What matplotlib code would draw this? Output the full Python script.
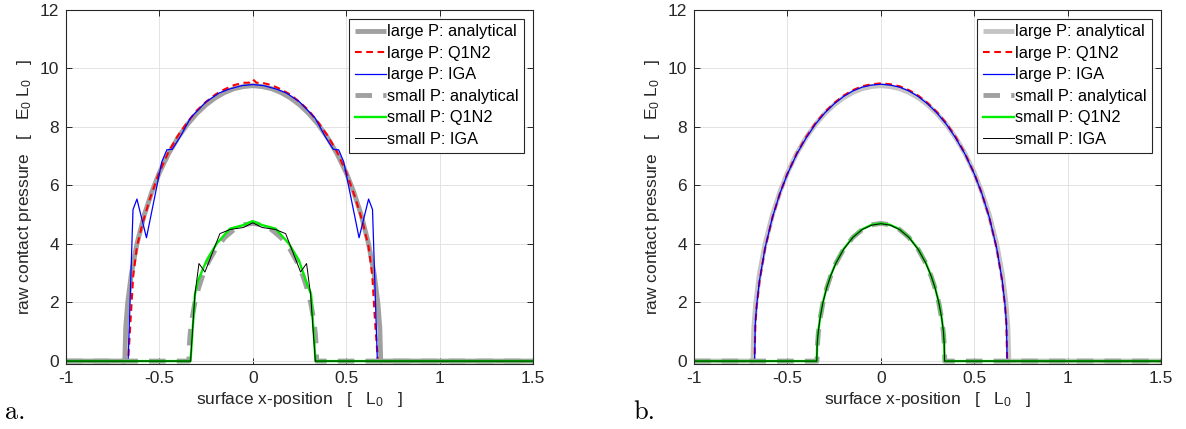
import matplotlib
matplotlib.use("Agg")
import matplotlib.pyplot as plt
import numpy as np

plt.rcParams["font.family"] = ["Liberation Sans", "DejaVu Sans"]
plt.rcParams["mathtext.fontset"] = "custom"
plt.rcParams["mathtext.rm"] = "Liberation Sans"
plt.rcParams["mathtext.it"] = "Liberation Sans:italic"
plt.rcParams["axes.unicode_minus"] = False

# ── analytical Hertz pressure (same in both panels) ──────────────────────────
ana_large_x = [-1.0, -0.685, -0.68, -0.67, -0.65, -0.62, -0.58, -0.54, -0.5, -0.45,
               -0.4, -0.35, -0.3, -0.25, -0.2, -0.15, -0.1, -0.05, 0.0, 0.05, 0.1,
               0.15, 0.2, 0.25, 0.3, 0.35, 0.4, 0.45, 0.5, 0.54, 0.58, 0.62, 0.65,
               0.67, 0.68, 0.685, 1.5]
ana_large_p = [0, 0, 1.14, 1.96, 2.97, 4.00, 5.00, 5.78, 6.43, 7.09, 7.63, 8.08,
               8.45, 8.75, 8.99, 9.17, 9.30, 9.37, 9.40, 9.37, 9.30, 9.17, 8.99,
               8.75, 8.45, 8.08, 7.63, 7.09, 6.43, 5.78, 5.00, 4.00, 2.97, 1.96,
               1.14, 0, 0]

ana_small_x = [-1.0, -0.342, -0.34, -0.335, -0.325, -0.31, -0.29, -0.27, -0.24, -0.2,
               -0.15, -0.1, -0.05, 0.0, 0.05, 0.1, 0.15, 0.2, 0.24, 0.27, 0.29,
               0.31, 0.325, 0.335, 0.34, 0.342, 1.5]
ana_small_p = [0, 0, 0.51, 0.95, 1.46, 1.99, 2.49, 2.88, 3.35, 3.81, 4.22, 4.49,
               4.65, 4.70, 4.65, 4.49, 4.22, 3.81, 3.35, 2.88, 2.49, 1.99, 1.46,
               0.95, 0.51, 0, 0]

# ── panel a: raw nodal pressures ─────────────────────────────────────────────
a_q1n2_large_x = [-1.0, -0.667, -0.655, -0.64, -0.62, -0.59, -0.55, -0.5, -0.45,
                  -0.4, -0.35, -0.3, -0.25, -0.2, -0.15, -0.1, -0.05, -0.02, 0.0,
                  0.02, 0.05, 0.1, 0.15, 0.2, 0.25, 0.3, 0.35, 0.4, 0.45, 0.5,
                  0.55, 0.59, 0.62, 0.64, 0.655, 0.67, 1.5]
a_q1n2_large_p = [0, 0, 1.3, 2.9, 3.9, 4.7, 5.55, 6.45, 7.15, 7.7, 8.15, 8.55,
                  8.85, 9.1, 9.28, 9.42, 9.5, 9.5, 9.62, 9.5, 9.5, 9.42, 9.28,
                  9.1, 8.85, 8.55, 8.15, 7.7, 7.15, 6.45, 5.55, 4.7, 3.9, 2.9,
                  1.3, 0, 0]

a_iga_large_x = [-1.0, -0.667, -0.641, -0.62, -0.569, -0.487, -0.46, -0.431, -0.39,
                 -0.333, -0.25, -0.18, -0.128, -0.06, 0.0, 0.06, 0.128, 0.18, 0.25,
                 0.333, 0.39, 0.431, 0.46, 0.487, 0.569, 0.62, 0.641, 0.667, 1.5]
a_iga_large_p = [0, 0, 5.17, 5.53, 4.21, 6.8, 7.21, 7.23, 7.64, 8.3, 8.85, 9.15,
                 9.28, 9.4, 9.44, 9.4, 9.28, 9.15, 8.85, 8.3, 7.64, 7.23, 7.21,
                 6.8, 4.21, 5.53, 5.17, 0, 0]

a_q1n2_small_x = [-1.0, -0.333, -0.309, -0.292, -0.247, -0.193, -0.122, -0.051, 0.0,
                  0.051, 0.122, 0.193, 0.247, 0.292, 0.312, 0.336, 1.5]
a_q1n2_small_p = [0, 0, 2.30, 2.76, 3.44, 4.01, 4.52, 4.64, 4.78, 4.64, 4.52,
                  4.01, 3.44, 2.60, 2.30, 0, 0]

a_iga_small_x = [-1.0, -0.333, -0.31, -0.288, -0.256, -0.176, -0.122, -0.05, 0.0,
                 0.05, 0.122, 0.176, 0.256, 0.288, 0.31, 0.335, 1.5]
a_iga_small_p = [0, 0, 2.25, 3.33, 3.04, 4.35, 4.49, 4.56, 4.72, 4.56, 4.49, 4.35,
                 3.04, 3.33, 2.25, 0, 0]

# ── panel b: smoothed nodal pressures ────────────────────────────────────────
b_large_x = [-1.0, -0.676, -0.672, -0.665, -0.65, -0.62, -0.58, -0.54, -0.5, -0.45,
             -0.4, -0.35, -0.3, -0.25, -0.2, -0.15, -0.1, -0.05, 0.0, 0.05, 0.1,
             0.15, 0.2, 0.25, 0.3, 0.35, 0.4, 0.45, 0.5, 0.54, 0.58, 0.62, 0.65,
             0.665, 0.672, 0.676, 1.5]
b_q1n2_large_p = [0, 0, 1.26, 1.85, 2.70, 3.84, 4.91, 5.73, 6.40, 7.09, 7.65, 8.12,
                  8.50, 8.81, 9.06, 9.25, 9.38, 9.45, 9.48, 9.45, 9.38, 9.25, 9.06,
                  8.81, 8.50, 8.12, 7.65, 7.09, 6.40, 5.73, 4.91, 3.84, 2.70, 1.85,
                  1.26, 0, 0]
b_iga_large_p = [0, 0, 1.30, 1.90, 2.74, 3.86, 4.92, 5.73, 6.39, 7.07, 7.62, 8.09,
                 8.47, 8.78, 9.03, 9.22, 9.35, 9.42, 9.45, 9.42, 9.35, 9.22, 9.03,
                 8.78, 8.47, 8.09, 7.62, 7.07, 6.39, 5.73, 4.92, 3.86, 2.74, 1.90,
                 1.30, 0, 0]

b_small_x = [-1.0, -0.343, -0.341, -0.335, -0.325, -0.31, -0.29, -0.27, -0.24, -0.2,
             -0.15, -0.1, -0.05, 0.0, 0.05, 0.1, 0.15, 0.2, 0.24, 0.27, 0.29,
             0.31, 0.325, 0.335, 0.339, 0.341, 1.5]
b_q1n2_small_p = [0, 0, 0.62, 1.01, 1.50, 2.01, 2.51, 2.90, 3.36, 3.82, 4.23, 4.50,
                  4.65, 4.70, 4.65, 4.50, 4.23, 3.82, 3.36, 2.90, 2.51, 2.01, 1.50,
                  1.01, 0.62, 0, 0]
b_iga_small_p = [0, 0, 0.60, 1.00, 1.49, 2.00, 2.50, 2.89, 3.35, 3.81, 4.22, 4.49,
                 4.64, 4.69, 4.64, 4.49, 4.22, 3.81, 3.35, 2.89, 2.50, 2.00, 1.49,
                 1.00, 0.60, 0, 0]

labels = ["large P: analytical", "large P: Q1N2", "large P: IGA",
          "small P: analytical", "small P: Q1N2", "small P: IGA"]
x_ticks = [-1, -0.5, 0, 0.5, 1, 1.5]
x_tick_labels = ["-1", "-0.5", "0", "0.5", "1", "1.5"]
y_ticks = [0, 2, 4, 6, 8, 10, 12]

INK = "#262626"


def draw_panel(ax, series, ana_large_color, tag):
    (lq_x, lq_p), (li_x, li_p), (sq_x, sq_p), (si_x, si_p) = series
    ax.plot(ana_large_x, ana_large_p, color=ana_large_color, lw=3.5,
            solid_capstyle="butt", label=labels[0])
    ax.plot(lq_x, lq_p, color="#ff0000", lw=1.5, ls=(0, (3.2, 2.2)), label=labels[1])
    ax.plot(li_x, li_p, color="#0000ff", lw=0.9, label=labels[2])
    ax.plot(ana_small_x, ana_small_p, color="#a0a0a0", lw=3.5,
            ls=(0, (3.4, 2.3)), dash_capstyle="butt", label=labels[3])
    ax.plot(sq_x, sq_p, color="#00ee00", lw=1.7, label=labels[4])
    ax.plot(si_x, si_p, color="#000000", lw=0.7, label=labels[5])

    ax.set_xlim(-1, 1.5)
    ax.set_ylim(-0.1, 12)
    ax.set_xticks(x_ticks)
    ax.set_xticklabels(x_tick_labels)
    ax.set_yticks(y_ticks)
    ax.grid(True, color="#e3e3e3", lw=0.7)
    ax.set_axisbelow(True)
    ax.tick_params(direction="in", length=4.5, width=0.7, colors=INK,
                   labelsize=12.5, top=True, right=True, pad=5)
    for s in ax.spines.values():
        s.set_color(INK)
        s.set_linewidth(0.8)

    ax.set_xlabel(r"surface x-position   [   L$_0$   ]", fontsize=12.5, color=INK,
                  labelpad=3)
    ax.set_ylabel(r"raw contact pressure   [   E$_0$ L$_0$   ]", fontsize=12.5,
                  color=INK, labelpad=4)

    leg = ax.legend(loc="upper right", fontsize=11.8, frameon=True, fancybox=False,
                    handlelength=1.9, handletextpad=0.05, labelspacing=0.4,
                    borderpad=0.35, borderaxespad=0.55)
    leg.get_frame().set_edgecolor(INK)
    leg.get_frame().set_linewidth(0.8)
    leg.get_frame().set_alpha(1)

    ax.text(-0.13, -0.135, tag, transform=ax.transAxes, fontsize=19,
            fontfamily="cmr10", ha="left", va="center")


fig = plt.figure(figsize=(11.86, 4.29), dpi=100)
ax_a = fig.add_axes([0.0556, 0.1515, 0.3938, 0.8263])
ax_b = fig.add_axes([0.5852, 0.1515, 0.3938, 0.8263])

draw_panel(ax_a, [(a_q1n2_large_x, a_q1n2_large_p), (a_iga_large_x, a_iga_large_p),
                  (a_q1n2_small_x, a_q1n2_small_p), (a_iga_small_x, a_iga_small_p)],
           "#a0a0a0", "a.")
draw_panel(ax_b, [(b_large_x, b_q1n2_large_p), (b_large_x, b_iga_large_p),
                  (b_small_x, b_q1n2_small_p), (b_small_x, b_iga_small_p)],
           "#c4c4c4", "b.")

fig.savefig("out.png", dpi=100)
